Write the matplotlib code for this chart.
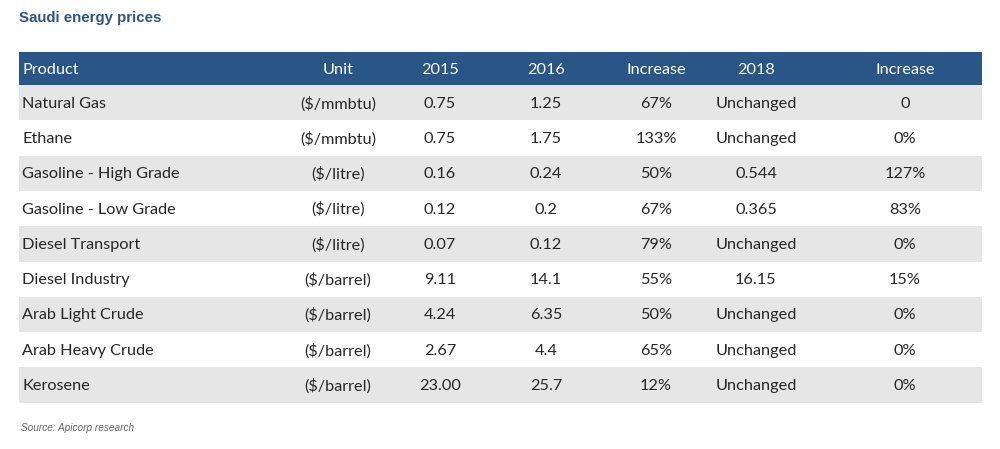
import matplotlib.pyplot as plt
from matplotlib.patches import Rectangle

columns = ["Product", "Unit", "2015", "2016", "Increase", "2018", "Increase"]
products = ["Natural Gas", "Ethane", "Gasoline - High Grade", "Gasoline - Low Grade",
            "Diesel Transport", "Diesel Industry", "Arab Light Crude",
            "Arab Heavy Crude", "Kerosene"]
units = ["($/mmbtu)", "($/mmbtu)", "($/litre)", "($/litre)", "($/litre)",
         "($/barrel)", "($/barrel)", "($/barrel)", "($/barrel)"]
price_2015 = ["0.75", "0.75", "0.16", "0.12", "0.07", "9.11", "4.24", "2.67", "23.00"]
price_2016 = ["1.25", "1.75", "0.24", "0.2", "0.12", "14.1", "6.35", "4.4", "25.7"]
increase_2016 = ["67%", "133%", "50%", "67%", "79%", "55%", "50%", "65%", "12%"]
price_2018 = ["Unchanged", "Unchanged", "0.544", "0.365", "Unchanged", "16.15",
              "Unchanged", "Unchanged", "Unchanged"]
increase_2018 = ["0", "0%", "127%", "83%", "0%", "15%", "0%", "0%", "0%"]

header_color = "#2a5587"
stripe = "#e6e6e6"
text_color = "#262626"
body_font = ["Lato", "DejaVu Sans"]

fig = plt.figure(figsize=(10, 4.49), dpi=100)
ax = fig.add_axes([0, 0, 1, 1])
ax.set_xlim(0, 1000)
ax.set_ylim(449, 0)
ax.axis("off")

left, right = 19, 982
top, header_h, row_h = 52, 33, 35.3
col_x = [22, 338, 440, 546, 656, 756, 905]

ax.text(19, 18, "Saudi energy prices", fontsize=10.8, fontweight="bold",
        color=header_color, family=["Liberation Sans"], va="center", ha="left")

ax.add_patch(Rectangle((left, top), right - left, header_h, color=header_color, lw=0))
for j, name in enumerate(columns):
    ax.text(col_x[j], top + header_h / 2 + 1.5, name, fontsize=11.7, color="white",
            family=body_font, va="center", ha="left" if j == 0 else "center")

rows = list(zip(products, units, price_2015, price_2016, increase_2016,
                price_2018, increase_2018))
for i, row in enumerate(rows):
    y0 = top + header_h + i * row_h
    if i % 2 == 0:
        ax.add_patch(Rectangle((left, y0), right - left, row_h, color=stripe, lw=0))
    for j, val in enumerate(row):
        ax.text(col_x[j], y0 + row_h / 2 + 1, val, fontsize=11.7, color=text_color,
                family=body_font, va="center", ha="left" if j == 0 else "center")

ax.text(21, 428, "Source: Apicorp research", fontsize=7.2, style="italic",
        color="#666666", family=["Liberation Sans"], va="center", ha="left")

fig.savefig("out.png", dpi=100)
